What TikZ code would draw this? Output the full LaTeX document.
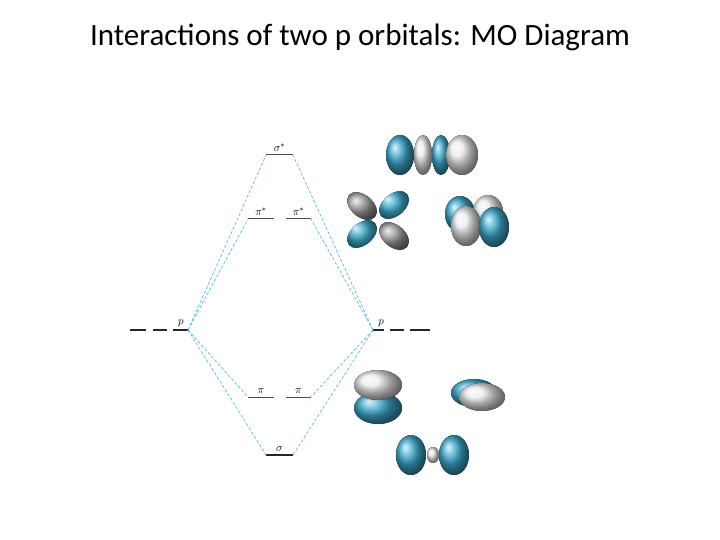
\documentclass[tikz,border=0pt]{standalone}
\usepackage{fontspec}
\setmainfont{Carlito}
\definecolor{lobeblue}{RGB}{60,170,205}
\definecolor{dashcol}{RGB}{80,190,210}
\begin{document}
\begin{tikzpicture}[x=1pt,y=-1pt,
  lvl/.style={line width=1pt,black!70},
  conn/.style={dashcol,dash pattern=on 3pt off 2pt,line width=0.7pt},
  lab/.style={font=\fontsize{11}{12}\selectfont,inner sep=1pt,anchor=south},
  blue/.style={ball color=lobeblue,draw=none},
  grey/.style={ball color=white!92!black,draw=none},
  dgrey/.style={ball color=black!40,draw=none}]
\useasboundingbox (0,0) rectangle (720,540);
\node (title) at (360,37) {\fontsize{31}{36}\selectfont Interactions of two p orbitals: MO Diagram};
% levels
\coordinate (sgsL) at (266,155); \coordinate (sgsR) at (293,155);
\coordinate (ps1L) at (248,219); \coordinate (ps1R) at (274,219);
\coordinate (ps2L) at (286,219); \coordinate (ps2R) at (311,219);
\coordinate (pb1L) at (248,397); \coordinate (pb1R) at (274,397);
\coordinate (pb2L) at (286,397); \coordinate (pb2R) at (311,397);
\coordinate (sgL) at (266,455); \coordinate (sgR) at (293,455);
\coordinate (pL) at (188,330); \coordinate (pR) at (373,330);
\draw[lvl] (sgsL)--(sgsR); \draw[lvl] (ps1L)--(ps1R); \draw[lvl] (ps2L)--(ps2R);
\draw[lvl] (pb1L)--(pb1R); \draw[lvl] (pb2L)--(pb2R);
\draw[lvl,line width=1.4pt,black!85] (sgL)--(sgR);
\draw[lvl,line width=1.4pt,black!85] (130,330) coordinate (l1) -- (146,330) (153,330)--(167,330) (173,330)--(pL);
\draw[lvl,line width=1.4pt,black!85] (pR)--(384,330) (390,330)--(404,330) (410,330)--(430,330);
\node[lab] (lsgs) at (279.5,153) {$\sigma^*$};
\node[lab] (lps1) at (261,217) {$\pi^*$};
\node[lab] (lps2) at (298.5,217) {$\pi^*$};
\node[lab] (lpb1) at (261,395) {$\pi$};
\node[lab] (lpb2) at (298.5,395) {$\pi$};
\node[lab] (lsg) at (279.5,453) {$\sigma$};
\node[lab] (lpL) at (181,328) {$p$};
\node[lab] (lpR) at (381,328) {$p$};
% connectors
\draw[conn] (pL)--(sgsL); \draw[conn] (pL)--(ps1L);
\draw[conn] (pL)--(pb1L); \draw[conn] (pL)--(sgL);
\draw[conn] (pR)--(sgsR); \draw[conn] (pR)--(ps2R);
\draw[conn] (pR)--(pb2R); \draw[conn] (pR)--(sgR);
% sigma* orbital
\fill[blue] (400,155) ellipse [x radius=14,y radius=20];
\fill[grey] (423,155) ellipse [x radius=9,y radius=20];
\fill[blue] (441,155) ellipse [x radius=9,y radius=20];
\fill[grey] (462,155) ellipse [x radius=16,y radius=20];
% pi* clover
\fill[dgrey,rotate around={-40:(362,206)}] (362,206) ellipse [x radius=17,y radius=11];
\fill[blue,rotate around={40:(394,205)}] (394,205) ellipse [x radius=17,y radius=11];
\fill[blue,rotate around={40:(362,234)}] (362,234) ellipse [x radius=17,y radius=11];
\fill[dgrey,rotate around={-40:(394,236)}] (394,236) ellipse [x radius=17,y radius=11];
% pi* side
\fill[blue] (460,214) ellipse [x radius=15,y radius=18];
\fill[grey] (488,212) ellipse [x radius=15,y radius=17];
\fill[grey] (466,226) ellipse [x radius=15,y radius=20];
\fill[blue] (494,227) ellipse [x radius=15,y radius=20];
% pi bonding
\fill[blue] (378,408) ellipse [x radius=24,y radius=16];
\fill[grey] (378,385) ellipse [x radius=24,y radius=15];
\fill[blue] (474,393) ellipse [x radius=23,y radius=14];
\fill[grey] (482,397) ellipse [x radius=23,y radius=14];
% sigma bonding
\fill[blue] (411,455) ellipse [x radius=15,y radius=20];
\fill[grey] (433,455) ellipse [x radius=6,y radius=8];
\fill[blue] (454,455) ellipse [x radius=15,y radius=20];
\end{tikzpicture}
\end{document}
